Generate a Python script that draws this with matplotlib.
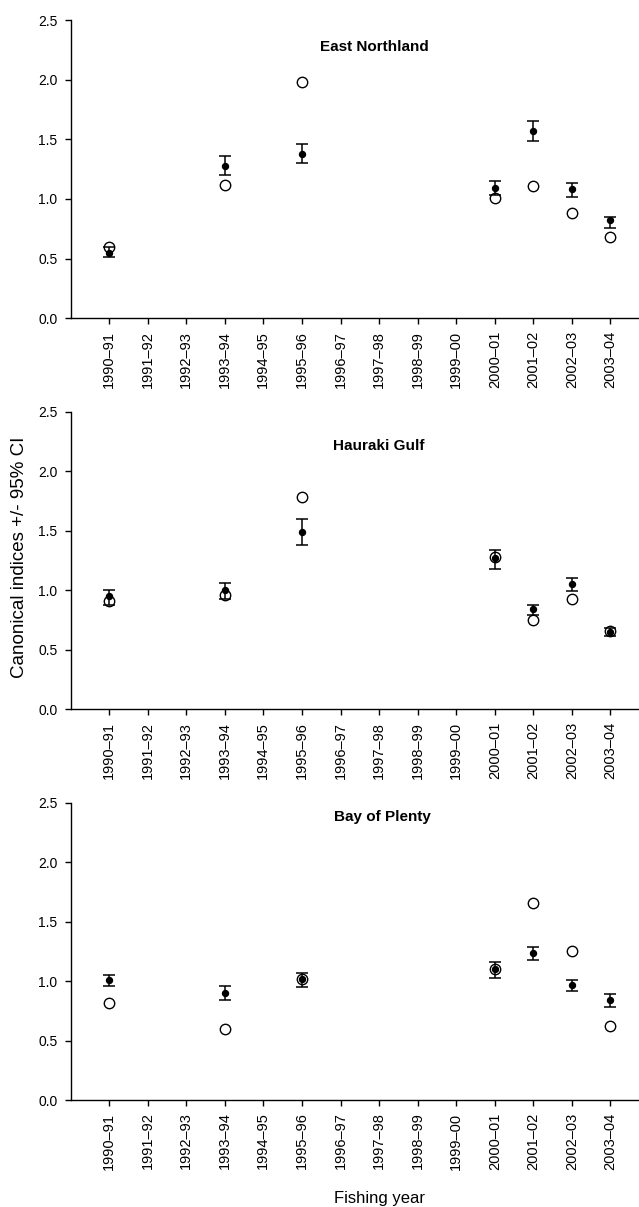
import numpy as np
import matplotlib
matplotlib.use('Agg')
import matplotlib.pyplot as plt

plt.rcParams['font.family'] = ['Liberation Sans', 'DejaVu Sans']

YEARS = ['1990–91', '1991–92', '1992–93', '1993–94', '1994–95', '1995–96',
         '1996–97', '1997–98', '1998–99', '1999–00', '2000–01', '2001–02',
         '2002–03', '2003–04']
DATA_YEARS = ['1990–91', '1993–94', '1995–96', '2000–01', '2001–02',
              '2002–03', '2003–04']
REGIONS = ['East Northland', 'Hauraki Gulf', 'Bay of Plenty']

# canonical index (filled) with 95% CI, and the unstandardised index (open)
en_idx = [0.55, 1.28, 1.38, 1.09, 1.57, 1.08, 0.82]
en_lo = [0.51, 1.20, 1.30, 1.03, 1.49, 1.02, 0.76]
en_hi = [0.60, 1.36, 1.46, 1.15, 1.65, 1.13, 0.85]
en_open = [0.60, 1.12, 1.98, 1.01, 1.11, 0.88, 0.68]

hg_idx = [0.95, 1.00, 1.49, 1.27, 0.84, 1.05, 0.65]
hg_lo = [0.88, 0.93, 1.38, 1.18, 0.79, 0.99, 0.62]
hg_hi = [1.00, 1.06, 1.60, 1.34, 0.88, 1.10, 0.68]
hg_open = [0.91, 0.96, 1.78, 1.28, 0.75, 0.93, 0.66]

bp_idx = [1.01, 0.90, 1.02, 1.10, 1.24, 0.97, 0.84]
bp_lo = [0.96, 0.84, 0.95, 1.03, 1.18, 0.92, 0.78]
bp_hi = [1.05, 0.96, 1.07, 1.16, 1.29, 1.01, 0.89]
bp_open = [0.82, 0.60, 1.02, 1.10, 1.66, 1.25, 0.62]

panels = [
  (en_idx, en_lo, en_hi, en_open),
  (hg_idx, hg_lo, hg_hi, hg_open),
  (bp_idx, bp_lo, bp_hi, bp_open),
]
# axes rectangles: [left, bottom, width, height]
rects = [
  [0.1116, 0.7363, 0.8884, 0.2471],
  [0.1116, 0.4123, 0.8884, 0.2466],
  [0.1116, 0.0886, 0.8884, 0.2463],
]
title_pos = [(6.87, 2.27), (7.0, 2.21), (7.08, 2.38)]

fig = plt.figure(figsize=(6.39, 12.07), dpi=100)
xs = np.array([YEARS.index(y) for y in DATA_YEARS])

for i, (idx, lo, hi, opn) in enumerate(panels):
  ax = fig.add_axes(rects[i])
  idx = np.array(idx)
  yerr = [idx - np.array(lo), np.array(hi) - idx]
  ax.plot(xs, opn, 'o', mfc='none', mec='black', mew=1.0, ms=7.5, zorder=3)
  ax.errorbar(xs, idx, yerr=yerr, fmt='o', color='black', ms=4.3,
              capsize=4, elinewidth=1.1, capthick=1.1, zorder=4)
  ax.set_xlim(-0.98, 13.74)
  ax.set_ylim(0, 2.5)
  ax.set_yticks([0, 0.5, 1.0, 1.5, 2.0, 2.5])
  ax.set_yticklabels(['0.0', '0.5', '1.0', '1.5', '2.0', '2.5'], fontsize=10)
  ax.set_xticks(range(len(YEARS)))
  ax.set_xticklabels(YEARS, rotation=90, fontsize=10.5)
  ax.tick_params(axis='y', length=4, width=1, pad=6)
  ax.tick_params(axis='x', length=4, width=1, pad=5)
  for s in ['top', 'right']:
    ax.spines[s].set_visible(False)
  for s in ['left', 'bottom']:
    ax.spines[s].set_linewidth(1.0)
  ax.text(title_pos[i][0], title_pos[i][1], REGIONS[i], ha='center',
          va='center', fontsize=11, fontweight='bold')

fig.text(20 / 639, 1 - 557 / 1207, 'Canonical indices +/- 95% CI',
         rotation=90, ha='center', va='center', fontsize=13.5)
fig.text(380 / 639, 1 - 1198 / 1207, 'Fishing year', ha='center',
         va='center', fontsize=12)

fig.savefig('out.png', dpi=100)
